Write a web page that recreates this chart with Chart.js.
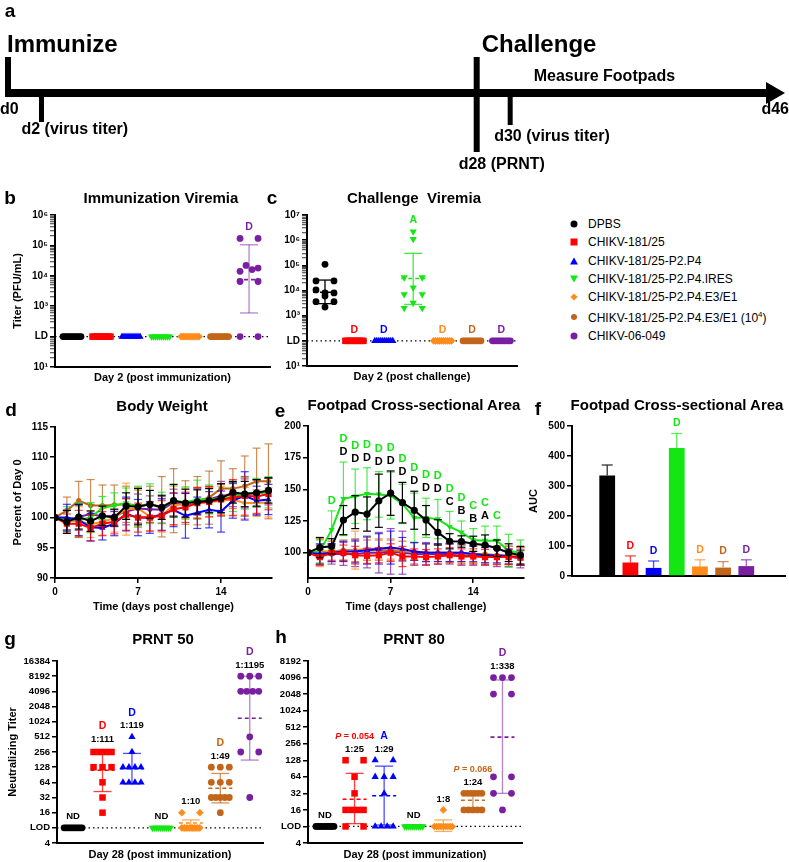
<!DOCTYPE html>
<html lang="en">
<head>
<meta charset="UTF-8">
<title>CHIKV-181/25 variants: viremia, footpad swelling and neutralization</title>
<script src="https://cdn.jsdelivr.net/npm/chart.js"></script>
<style>
  html, body { margin: 0; background: #fff; }
  #fig { position: relative; width: 789px; height: 862px; overflow: hidden; font-family: "Liberation Sans", Arial, sans-serif; color: #000; }
  #fig canvas { position: absolute; }
  .txt { position: absolute; white-space: pre; font-weight: bold; line-height: 1; transform: translate(-50%, -50%); }
  .letter { font-size: 19px; }
  .title { font-size: 15px; }
  .leg { position: absolute; left: 588px; font-size: 12px; line-height: 1; white-space: nowrap; transform: translateY(-50%); }
  .leg sup { font-size: 8px; vertical-align: 5px; }
  .mk { position: absolute; transform: translate(-50%, -50%); }
</style>
</head>
<body>
<div id="fig"></div>
<script>
var FONT = '"Liberation Sans", Arial, sans-serif';
Chart.defaults.font.family = FONT;
Chart.defaults.color = '#000';

// ---------------- data ----------------
var groupNames = ['DPBS', 'CHIKV-181/25', 'CHIKV-181/25-P2.P4', 'CHIKV-181/25-P2.P4.IRES',
  'CHIKV-181/25-P2.P4.E3/E1', 'CHIKV-181/25-P2.P4.E3/E1 (10^4)', 'CHIKV-06-049'];

// a. study timeline (days)
var timelineDays = [0, 2, 28, 30, 46];
var timelineNotes = ['d0', 'd2 (virus titer)', 'd28 (PRNT)', 'd30 (virus titer)', 'd46'];
var phaseDays = [0, 28, 28];
var phaseNotes = ['Immunize', 'Challenge', 'Measure Footpads'];

// b/c. viremia (PFU/mL), values at the detection limit plotted at LD
var LD = 100;
var viremiaTicks = [10, 100, 1000, 10000, 100000, 1000000, 10000000];
var viremiaTickLabels = ['10\u00b9', 'LD', '10\u00b3', '10\u2074', '10\u2075', '10\u2076', '10\u2077'];

var immViremia = [
  [100, 100, 100, 100, 100, 100, 100, 100, 100, 100],
  [100, 100, 100, 100, 100, 100, 100, 100, 100, 100],
  [100, 100, 100, 100, 100, 100, 100, 100, 100, 100],
  [100, 100, 100, 100, 100, 100, 100, 100, 100, 100],
  [100, 100, 100, 100, 100, 100, 100, 100, 100, 100],
  [100, 100, 100, 100, 100, 100, 100, 100, 100, 100],
  [170000, 170000, 14000, 22000, 16000, 18000, 6500, 6500, 100, 100]
];
var immMean = [null, null, null, null, null, null, 7500];
var immLo = [null, null, null, null, null, null, 600];
var immHi = [null, null, null, null, null, null, 105000];
var immSig = ['', '', '', '', '', '', 'D'];

var chalViremia = [
  [110000, 24000, 24000, 10500, 8000, 8000, 6000, 3600, 3600, 2200],
  [100, 100, 100, 100, 100, 100, 100, 100, 100, 100],
  [100, 100, 100, 100, 100, 100, 100, 100, 100, 100],
  [2200000, 1100000, 33000, 33000, 13000, 7000, 7000, 3200, 2000, 2000],
  [100, 100, 100, 100, 100, 100, 100, 100, 100, 100],
  [100, 100, 100, 100, 100, 100, 100, 100, 100, 100],
  [100, 100, 100, 100, 100, 100, 100, 100, 100, 100]
];
var chalMean = [8500, null, null, 30000, null, null, null];
var chalLo = [3000, null, null, 2800, null, null, null];
var chalHi = [26000, null, null, 300000, null, null, null];
var chalSig = ['', 'D', 'D', 'A', 'D', 'D', 'D'];

// d/e. daily measurements after challenge
var days = [0, 1, 2, 3, 4, 5, 6, 7, 8, 9, 10, 11, 12, 13, 14, 15, 16, 17, 18];
var dayTicks = [0, 7, 14];

var weightTicks = [90, 95, 100, 105, 110, 115];
var weightMean = [
  [100, 99.3, 100.1, 99.4, 100.3, 100.0, 101.9, 101.8, 102.2, 101.7, 102.8, 102.4, 102.6, 102.8, 103.2, 104.2, 103.9, 104.1, 104.5],
  [100, 99.0, 99.0, 98.3, 99.0, 99.3, 100.5, 100.0, 100.0, 100.3, 101.4, 101.7, 102.4, 102.6, 103.0, 103.3, 103.6, 103.5, 103.9],
  [100, 100.0, 99.6, 98.4, 98.3, 99.0, 100.6, 100.0, 100.0, 100.5, 101.3, 100.3, 100.8, 101.3, 101.0, 102.8, 103.6, 102.8, 103.0],
  [100, 99.8, 99.6, 100.0, 101.6, 102.0, 102.4, 101.8, 102.3, 101.6, 102.8, 102.5, 103.0, 103.0, 103.2, 103.4, 104.0, 104.1, 104.2],
  [100, 99.5, 99.4, 98.9, 99.3, 99.9, 101.4, 101.5, 100.2, 100.4, 102.0, 102.3, 102.5, 102.6, 102.8, 103.0, 102.4, 102.4, 102.5],
  [100, 101.2, 102.8, 102.0, 102.0, 102.1, 102.2, 102.0, 102.2, 101.8, 102.8, 102.5, 102.8, 103.3, 104.8, 104.8, 105.2, 106.0, 106.0],
  [100, 99.6, 100.1, 100.6, 100.2, 100.3, 101.0, 101.5, 101.4, 101.3, 102.5, 102.0, 102.6, 103.0, 103.6, 103.8, 104.0, 104.0, 104.3]
];
var weightSd = [
  [0, 1.9, 2.0, 1.7, 1.6, 1.4, 2.2, 3.0, 2.3, 2.0, 2.7, 2.3, 2.0, 2.0, 2.4, 1.8, 2.1, 2.2, 2.1],
  [0, 1.6, 2.2, 2.1, 2.0, 2.0, 2.6, 2.4, 2.2, 2.5, 2.6, 2.5, 2.6, 2.5, 2.6, 3.0, 3.2, 2.8, 2.6],
  [0, 2.2, 2.6, 2.3, 2.0, 2.0, 2.8, 3.0, 2.6, 2.6, 2.8, 3.7, 2.6, 3.0, 3.4, 2.9, 4.0, 2.4, 2.5],
  [0, 2.0, 2.9, 2.5, 1.9, 2.1, 2.5, 3.4, 3.3, 2.6, 2.6, 2.6, 3.2, 2.4, 2.4, 2.4, 2.6, 2.4, 2.6],
  [0, 1.8, 2.4, 2.2, 2.2, 2.3, 4.3, 3.0, 2.5, 2.8, 3.2, 2.6, 2.5, 2.4, 2.4, 2.6, 2.6, 2.2, 2.4],
  [0, 2.2, 3.2, 4.3, 3.4, 3.3, 3.0, 3.0, 3.0, 5.0, 5.3, 3.6, 4.0, 4.4, 4.6, 3.3, 5.0, 5.5, 6.2],
  [0, 1.6, 2.2, 1.6, 1.8, 1.8, 2.2, 2.4, 2.2, 2.2, 2.2, 2.0, 2.2, 2.2, 2.4, 2.0, 2.4, 2.2, 2.2]
];

var footTicks = [100, 125, 150, 175, 200];
var footMean = [
  [100, 104, 105, 125.7, 132, 130.5, 141, 147, 139.5, 133.5, 125.7, 116, 109, 108.8, 107, 106, 103.5, 100, 98],
  [100, 96.5, 100, 100, 98, 97.5, 98, 100, 97, 97, 96.5, 97, 98, 97, 97, 96.5, 96.5, 96.5, 96],
  [100, 99, 100, 101, 101, 102, 103, 104, 103, 101, 100, 100, 100, 100, 99, 98, 98, 97, 96],
  [100, 101, 118, 142.5, 144.5, 146.5, 146, 145, 138.5, 127.5, 127.5, 126.5, 120.5, 116, 110, 109.5, 109.5, 101.5, 100],
  [100, 100, 101, 101, 102, 103, 103, 103, 102, 101, 100, 100, 100, 99, 99, 98, 98, 98, 97],
  [100, 101, 101, 102, 102, 102, 102, 102, 101, 101, 100, 100, 100, 100, 99, 99, 98, 98, 97],
  [100, 98, 99, 99, 99, 100, 100, 101, 100, 99, 99, 99, 99, 98, 98, 98, 97, 97, 96]
];
var footSd = [
  [0, 8, 6, 11.5, 13, 13.5, 21, 17.5, 16, 15, 11.5, 10, 6, 4.5, 6, 8, 6.5, 7, 7],
  [0, 6, 6, 6, 7, 6, 6, 7, 8, 6, 6, 6, 6, 6, 6, 6, 6, 6, 6],
  [0, 8, 7, 8, 9, 11, 12, 13, 9, 7, 7, 7, 7, 7, 6, 6, 6, 6, 6],
  [0, 9, 15, 29, 21.5, 20.5, 18, 18.5, 15.5, 19.5, 15.5, 15.5, 12, 9, 9, 11.5, 11.5, 13, 10],
  [0, 11, 8, 8, 15, 9, 8, 8, 7, 7, 7, 7, 7, 7, 7, 7, 7, 7, 7],
  [0, 10, 8, 8, 9, 8, 8, 8, 8, 7, 7, 7, 7, 7, 7, 7, 7, 7, 7],
  [0, 8, 8, 9, 10, 12, 16, 18, 17, 9, 9, 8, 8, 8, 8, 8, 8, 8, 8]
];
var footSigIRES = ['', '', 'D', 'D', 'D', 'D', 'D', 'D', 'D', 'D', 'D', 'D', 'D', 'D', 'C', 'C', 'C', '', ''];
var footSigDPBS = ['', '', '', 'D', 'D', 'D', 'D', 'D', 'D', 'D', 'D', 'D', 'C', 'B', 'B', 'A', '', '', ''];

// f. area under the footpad curve
var aucTicks = [0, 100, 200, 300, 400, 500];
var aucMean = [335, 45, 27, 427, 32, 28, 33];
var aucSd = [35, 22, 23, 48, 22, 20, 21];
var aucSig = ['', 'D', 'D', 'D', 'D', 'D', 'D'];

// g/h. neutralizing titers at day 28, values at the detection limit plotted at LOD
var LOD = 8;
var prntTicks = [4, 8, 16, 32, 64, 128, 256, 512, 1024, 2048, 4096, 8192, 16384];
var prntTickLabels = ['4', 'LOD', '16', '32', '64', '128', '256', '512', '1024', '2048', '4096', '8192', '16384'];

var prnt50 = [
  [8, 8, 8, 8, 8, 8, 8, 8, 8, 8],
  [256, 256, 256, 256, 128, 128, 128, 64, 32, 16],
  [512, 256, 128, 128, 128, 128, 64, 64, 64, 64],
  [8, 8, 8, 8, 8, 8, 8, 8, 8, 8],
  [16, 16, 8, 8, 8, 8, 8, 8, 8, 8],
  [128, 128, 128, 64, 64, 64, 32, 32, 32, 32, 32, 16],
  [8192, 8192, 8192, 4096, 4096, 4096, 4096, 512, 256, 256, 32]
];
var prnt50Mean = [null, 111, 119, null, 10, 49, 1195];
var prnt50Lo = [null, 42, 60, null, 7, 25, 177];
var prnt50Hi = [null, 280, 240, null, 11.5, 96, 8192];
var prnt50Sig = ['', 'D', 'D', '', '', 'D', 'D'];
var prnt50Gmt = ['ND', '1:111', '1:119', 'ND', '1:10', '1:49', '1:1195'];

var prnt80 = [
  [8, 8, 8, 8, 8, 8, 8, 8, 8, 8],
  [128, 128, 64, 32, 16, 16, 16, 16, 8, 8],
  [128, 128, 64, 64, 64, 32, 8, 8, 8, 8],
  [8, 8, 8, 8, 8, 8, 8, 8, 8, 8],
  [16, 8, 8, 8, 8, 8, 8, 8, 8, 8],
  [32, 32, 32, 32, 32, 32, 16, 16, 16, 16, 16],
  [4096, 4096, 4096, 2048, 2048, 64, 64, 32, 32, 16]
];
var prnt80Mean = [null, 25, 29, null, 8, 24, 338];
var prnt80Lo = [null, 9, 8.5, null, 6.5, 17, 32];
var prnt80Hi = [null, 74, 100, null, 10.5, 31, 3700];
var prnt80Sig = ['', 'P = 0.054', 'A', '', '', 'P = 0.066', 'D'];
var prnt80Gmt = ['ND', '1:25', '1:29', 'ND', '1:8', '1:24', '1:338'];

// ---------------- styles ----------------
var COLORS = ['#000000', '#ff0000', '#0000ff', '#14e614', '#ff8c1a', '#c2651a', '#7a1fa2'];
var ERR_ALPHA = [1, 0.75, 0.7, 0.8, 0.7, 0.7, 0.55];
var STYLES = ['circle', 'rect', 'triangle', 'triangle', 'rectRot', 'circle', 'circle'];
var ROT = [0, 0, 0, 180, 0, 0, 0];
var DOT_R = [3.4, 4.6, 4.2, 4.2, 3.8, 3.4, 3.4];
var LINE_R = [3.6, 4.4, 3.6, 3.6, 3, 2.6, 2.6];
var SIG_SIZE = 10.5, GMT_SIZE = 9.5, P_SIZE = 9;

var fig = document.getElementById('fig');

function tint(hex, a) {
  var n = parseInt(hex.slice(1), 16);
  return 'rgba(' + (n >> 16) + ',' + ((n >> 8) & 255) + ',' + (n & 255) + ',' + a + ')';
}
function seg(ctx, x1, y1, x2, y2) {
  ctx.beginPath(); ctx.moveTo(x1, y1); ctx.lineTo(x2, y2); ctx.stroke();
}
function addText(text, x, y, cls) {
  var d = document.createElement('div');
  d.className = 'txt ' + cls;
  d.textContent = text;
  d.style.left = x + 'px'; d.style.top = y + 'px';
  fig.appendChild(d);
}
function drawLabel(ctx, text, x, y, color, size) {
  ctx.fillStyle = color;
  ctx.textBaseline = 'middle';
  if (text.indexOf('P = ') === 0) {
    size = P_SIZE;
    var upright = 'bold ' + size + 'px ' + FONT;
    var rest = text.slice(1);
    ctx.font = 'italic ' + upright; var wP = ctx.measureText('P').width;
    ctx.font = upright; var wR = ctx.measureText(rest).width;
    var x0 = x - (wP + wR) / 2;
    ctx.textAlign = 'left';
    ctx.font = 'italic ' + upright; ctx.fillText('P', x0, y);
    ctx.font = upright; ctx.fillText(rest, x0 + wP, y);
  } else {
    ctx.textAlign = 'center';
    ctx.font = 'bold ' + size + 'px ' + FONT;
    ctx.fillText(text, x, y);
  }
}

// plot frame: l,t,r,b = plot area; cl = canvas left; cb = canvas bottom
function frame(l, t, r, b, cl, cb, padTop) {
  return { l: l, t: t, r: r, b: b, cl: cl, cb: cb, padTop: padTop, padRight: 6 };
}
function canvasFor(f) {
  var c = document.createElement('canvas');
  var top = f.t - f.padTop, w = f.r + f.padRight - f.cl, h = f.cb - top;
  c.width = w; c.height = h;
  c.style.left = f.cl + 'px'; c.style.top = top + 'px';
  c.style.width = w + 'px'; c.style.height = h + 'px';
  fig.appendChild(c);
  return c;
}
function baseOptions(f, xScale, yScale) {
  return {
    responsive: false, animation: false, devicePixelRatio: 1,
    layout: { autoPadding: false, padding: { left: 0, top: f.padTop, right: f.padRight, bottom: 0 } },
    plugins: { legend: { display: false }, tooltip: { enabled: false } },
    scales: { x: xScale, y: yScale }
  };
}
function axisTitle(text, pad, bottomAxis) {
  if (!text) return { display: false };
  return {
    display: true, text: text, color: '#000', font: { size: 11, weight: 'bold' },
    padding: bottomAxis ? { top: 0, bottom: 0 } : { top: pad, bottom: 0 }
  };
}
function yAxis(f, o) {
  var labelOf = function (v) {
    var k = o.ticks.indexOf(v);
    if (k < 0) return '';
    return o.labels ? o.labels[k] : String(v);
  };
  return {
    type: o.type || 'linear', position: 'left', min: o.min, max: o.max,
    afterBuildTicks: function (s) {
      s.ticks = (o.minor ? o.minor : o.ticks).map(function (v) { return { value: v }; });
    },
    afterFit: function (s) { s.width = f.l - f.cl; },
    border: { display: true, color: '#000', width: 2 },
    grid: {
      display: true, drawOnChartArea: false, drawTicks: true, tickLength: 5, color: '#000',
      lineWidth: 1.5,
      tickWidth: function (c) { return c.tick && o.ticks.indexOf(c.tick.value) >= 0 ? 1.5 : 0.8; }
    },
    ticks: { color: '#000', font: { size: o.tickSize || 10, weight: 'bold' }, padding: 2, autoSkip: false, callback: labelOf },
    title: axisTitle(o.title, o.titlePad, false)
  };
}
function xAxis(f, o) {
  var s = {
    type: 'linear', position: 'bottom', min: o.min, max: o.max,
    afterFit: function (sc) { sc.height = f.cb - f.b; },
    border: { display: true, color: '#000', width: 2 },
    grid: { display: false },
    ticks: { display: false },
    title: axisTitle(o.title, 0, true)
  };
  if (o.ticks) {
    s.afterBuildTicks = function (sc) { sc.ticks = o.ticks.map(function (v) { return { value: v }; }); };
    s.grid = { display: true, drawOnChartArea: false, drawTicks: true, tickLength: 5, color: '#000', lineWidth: 1.5 };
    s.ticks = { display: true, color: '#000', font: { size: 10, weight: 'bold' }, padding: 3, autoSkip: false, maxRotation: 0 };
  }
  return s;
}
function logMinor(lo, hi, base) {
  var out = [];
  for (var d = lo; d < hi; d *= base) {
    for (var m = 1; m < base; m++) out.push(d * m);
  }
  out.push(hi);
  return out;
}

// points with (nearly) equal values share a row spread across the column
function swarm(vals, cx, spread, rowGap) {
  var idx = vals.map(function (v, i) { return i; });
  idx.sort(function (a, b) { return vals[b] - vals[a] || a - b; });
  var rows = [], cur = null;
  idx.forEach(function (i) {
    var lv = Math.log10(vals[i]);
    if (!cur || cur.top - lv > rowGap) { cur = { top: lv, members: [] }; rows.push(cur); }
    cur.members.push(i);
  });
  var pts = [];
  rows.forEach(function (row) {
    row.members.sort(function (a, b) { return a - b; });
    var n = row.members.length;
    row.members.forEach(function (i, k) {
      var off = n > 1 ? -spread / 2 + spread * k / (n - 1) : 0;
      pts.push({ x: cx + off, y: vals[i] });
    });
  });
  return pts;
}

function statsPlugin(cfg) {
  return {
    id: 'groupStats',
    beforeDatasetsDraw: function (chart) {
      var ctx = chart.ctx, a = chart.chartArea, y = chart.scales.y.getPixelForValue(cfg.limit);
      ctx.save();
      ctx.strokeStyle = '#000'; ctx.lineWidth = 1.3; ctx.setLineDash([1.5, 3]);
      seg(ctx, a.left, y, a.right, y);
      ctx.restore();
    },
    afterDatasetsDraw: function (chart) {
      var ctx = chart.ctx, xs = chart.scales.x, ys = chart.scales.y;
      ctx.save();
      cfg.values.forEach(function (vals, g) {
        var cx = xs.getPixelForValue(g + 1);
        var top = ys.getPixelForValue(Math.max.apply(null, vals));
        if (cfg.mean[g] != null) {
          var yl = ys.getPixelForValue(cfg.lo[g]), yh = ys.getPixelForValue(cfg.hi[g]);
          var ym = ys.getPixelForValue(cfg.mean[g]);
          ctx.setLineDash([]); ctx.strokeStyle = tint(COLORS[g], ERR_ALPHA[g]); ctx.lineWidth = 1.3;
          seg(ctx, cx, yl, cx, yh);
          seg(ctx, cx - 9, yh, cx + 9, yh);
          seg(ctx, cx - 9, yl, cx + 9, yl);
          ctx.setLineDash([4, 3]); ctx.strokeStyle = COLORS[g]; ctx.lineWidth = 1.6;
          seg(ctx, cx - 12, ym, cx + 12, ym);
          top = Math.min(top, yh);
        }
        var y = top - 11;
        if (cfg.gmt && cfg.gmt[g]) { drawLabel(ctx, cfg.gmt[g], cx, y, '#000', GMT_SIZE); y -= 13; }
        if (cfg.sig[g]) drawLabel(ctx, cfg.sig[g], cx, y, COLORS[g], SIG_SIZE);
      });
      ctx.restore();
    }
  };
}

function scatterPanel(f, cfg) {
  var pxPerX = (f.r - f.l) / (cfg.xmax - cfg.xmin);
  var pxPerDec = (f.b - f.t) / (Math.log10(cfg.ymax) - Math.log10(cfg.ymin));
  var datasets = cfg.values.map(function (vals, g) {
    return {
      data: swarm(vals, g + 1, 18 / pxPerX, cfg.rowPx / pxPerDec),
      showLine: false,
      pointStyle: STYLES[g], pointRotation: ROT[g], pointRadius: DOT_R[g],
      pointBackgroundColor: COLORS[g], pointBorderColor: COLORS[g], pointBorderWidth: 0
    };
  });
  var opts = baseOptions(f,
    xAxis(f, { min: cfg.xmin, max: cfg.xmax, title: cfg.xTitle }),
    yAxis(f, { type: 'logarithmic', min: cfg.ymin, max: cfg.ymax, ticks: cfg.ticks, labels: cfg.labels,
      minor: cfg.minor, title: cfg.yTitle, titlePad: cfg.yTitlePad, tickSize: cfg.tickSize }));
  new Chart(canvasFor(f), { type: 'scatter', data: { datasets: datasets }, options: opts, plugins: [statsPlugin(cfg)] });
}

function lineErrPlugin(means, sds) {
  return {
    id: 'lineErr',
    beforeDatasetDraw: function (chart, args) {
      var g = args.index, ctx = chart.ctx, ys = chart.scales.y, a = chart.chartArea;
      ctx.save();
      ctx.beginPath(); ctx.rect(a.left, a.top - 2, a.right - a.left + 6, a.bottom - a.top + 2); ctx.clip();
      ctx.strokeStyle = tint(COLORS[g], g === 0 ? 1 : 0.75); ctx.lineWidth = 1.2;
      args.meta.data.forEach(function (pt, j) {
        var sd = sds[g][j];
        if (!sd) return;
        var yh = ys.getPixelForValue(means[g][j] + sd), yl = ys.getPixelForValue(means[g][j] - sd);
        seg(ctx, pt.x, yl, pt.x, yh);
        seg(ctx, pt.x - 4, yh, pt.x + 4, yh);
        seg(ctx, pt.x - 4, yl, pt.x + 4, yl);
      });
      ctx.restore();
    }
  };
}

function linePanel(f, means, sds, yo, extra) {
  var datasets = means.map(function (m, g) {
    return {
      data: days.map(function (d, j) { return { x: d, y: m[j] }; }),
      borderColor: COLORS[g], borderWidth: 2, tension: 0,
      pointStyle: STYLES[g], pointRotation: ROT[g], pointRadius: LINE_R[g],
      pointBackgroundColor: COLORS[g], pointBorderColor: COLORS[g], pointBorderWidth: 0
    };
  });
  var opts = baseOptions(f,
    xAxis(f, { min: 0, max: 18.3, ticks: dayTicks, title: 'Time (days post challenge)' }),
    yAxis(f, yo));
  var plugins = [lineErrPlugin(means, sds)];
  if (extra) plugins.push(extra);
  new Chart(canvasFor(f), { type: 'line', data: { datasets: datasets }, options: opts, plugins: plugins });
}

// ---------------- a: timeline ----------------
(function () {
  var c = document.createElement('canvas');
  c.width = 789; c.height = 195;
  c.style.left = '0px'; c.style.top = '0px'; c.style.width = '789px'; c.style.height = '195px';
  fig.appendChild(c);
  var timelinePlugin = {
    id: 'timeline',
    afterDatasetsDraw: function (chart) {
      var ctx = chart.ctx, xs = chart.scales.x, y0 = chart.scales.y.getPixelForValue(0);
      var up = [36, 0, 36, 0], down = [4, 29, 59, 32], wid = [6, 5, 6, 5];
      ctx.save();
      ctx.fillStyle = '#000';
      for (var i = 0; i < 4; i++) {
        var x = xs.getPixelForValue(timelineDays[i]);
        ctx.fillRect(x - wid[i] / 2, y0 - up[i], wid[i], up[i] + down[i]);
      }
      var tip = xs.getPixelForValue(timelineDays[4]) + 7;
      ctx.beginPath(); ctx.moveTo(tip, y0); ctx.lineTo(tip - 19, y0 - 11); ctx.lineTo(tip - 19, y0 + 11);
      ctx.closePath(); ctx.fill();
      ctx.textBaseline = 'middle';
      ctx.font = 'bold 16px ' + FONT;
      var dx = [-8, -20, -18, -16], dy = [17, 37, 72, 44];
      timelineNotes.forEach(function (t, i) {
        if (i === 4) { ctx.textAlign = 'right'; ctx.fillText(t, 789, y0 + 17); return; }
        ctx.textAlign = 'left';
        ctx.fillText(t, xs.getPixelForValue(timelineDays[i]) + dx[i], y0 + dy[i]);
      });
      ctx.textAlign = 'left';
      var pdx = [-1, 5, 57], pdy = [-48, -48, -16], psize = [24, 24, 16];
      phaseNotes.forEach(function (t, i) {
        ctx.font = 'bold ' + psize[i] + 'px ' + FONT;
        ctx.fillText(t, xs.getPixelForValue(phaseDays[i]) + pdx[i], y0 + pdy[i]);
      });
      ctx.restore();
    }
  };
  new Chart(c, {
    type: 'line',
    data: { datasets: [{ data: [{ x: timelineDays[0], y: 0 }, { x: timelineDays[4], y: 0 }],
      borderColor: '#000', borderWidth: 8, pointRadius: 0, borderCapStyle: 'butt' }] },
    options: {
      responsive: false, animation: false, devicePixelRatio: 1,
      layout: { autoPadding: false, padding: 0 },
      plugins: { legend: { display: false }, tooltip: { enabled: false } },
      scales: { x: { type: 'linear', display: false, min: -0.478, max: 46.657 },
                y: { type: 'linear', display: false, min: -102, max: 93 } }
    },
    plugins: [timelinePlugin]
  });
})();

// ---------------- b, c: viremia ----------------
scatterPanel(frame(55, 215, 270, 367, 0, 385, 14), {
  values: immViremia, mean: immMean, lo: immLo, hi: immHi, sig: immSig, limit: LD,
  xmin: 0.424, xmax: 7.71, ymin: 10, ymax: 1e6, rowPx: 7,
  ticks: viremiaTicks, labels: viremiaTickLabels, minor: logMinor(10, 1e6, 10),
  xTitle: 'Day 2 (post immunization)', yTitle: 'Titer (PFU/mL)', yTitlePad: 11
});
scatterPanel(frame(307, 215, 517, 366, 272, 384, 14), {
  values: chalViremia, mean: chalMean, lo: chalLo, hi: chalHi, sig: chalSig, limit: LD,
  xmin: 0.388, xmax: 7.53, ymin: 10, ymax: 1e7, rowPx: 5,
  ticks: viremiaTicks, labels: viremiaTickLabels, minor: logMinor(10, 1e7, 10),
  xTitle: 'Day 2 (post challenge)'
});

// ---------------- d, e: time courses ----------------
linePanel(frame(55, 427, 272, 578, 0, 614, 10), weightMean, weightSd,
  { min: 90, max: 115, ticks: weightTicks, title: 'Percent of Day 0', titlePad: 11 });

var footLetterPlugin = {
  id: 'footLetters',
  afterDatasetsDraw: function (chart) {
    var ctx = chart.ctx, xs = chart.scales.x, ys = chart.scales.y;
    ctx.save();
    days.forEach(function (d, j) {
      var gTop = ys.getPixelForValue(footMean[3][j] + footSd[3][j]);
      var bTop = ys.getPixelForValue(footMean[0][j] + footSd[0][j]);
      var x = xs.getPixelForValue(d), y = Math.min(gTop, bTop) - 10;
      if (footSigDPBS[j]) { drawLabel(ctx, footSigDPBS[j], x, y, '#000', 11); y -= 13; }
      if (footSigIRES[j]) drawLabel(ctx, footSigIRES[j], x, y, COLORS[3], 11);
    });
    ctx.restore();
  }
};
linePanel(frame(308, 426, 524, 578, 275, 614, 10), footMean, footSd,
  { min: 80, max: 200, ticks: footTicks }, footLetterPlugin);

// ---------------- f: AUC ----------------
(function () {
  var f = frame(572, 426, 785, 578, 525, 584, 14);
  f.padRight = 4;
  var aucPlugin = {
    id: 'aucErr',
    afterDatasetsDraw: function (chart) {
      var ctx = chart.ctx, ys = chart.scales.y;
      ctx.save();
      chart.getDatasetMeta(0).data.forEach(function (bar, i) {
        var yh = ys.getPixelForValue(aucMean[i] + aucSd[i]);
        ctx.strokeStyle = i === 0 ? '#333' : tint(COLORS[i], 0.7); ctx.lineWidth = 1.3;
        seg(ctx, bar.x, bar.y, bar.x, yh);
        seg(ctx, bar.x - 5.5, yh, bar.x + 5.5, yh);
        if (aucSig[i]) drawLabel(ctx, aucSig[i], bar.x, yh - 10, COLORS[i], SIG_SIZE);
      });
      ctx.restore();
    }
  };
  var opts = baseOptions(f,
    xAxis(f, { min: 0.4, max: 7.75 }),
    yAxis(f, { min: 0, max: 500, ticks: aucTicks, title: 'AUC', titlePad: 2.4 }));
  new Chart(canvasFor(f), {
    type: 'bar',
    data: { datasets: [{ data: aucMean.map(function (v, i) { return { x: i + 1, y: v }; }),
      backgroundColor: COLORS, barPercentage: 0.68, categoryPercentage: 1 }] },
    options: opts,
    plugins: [aucPlugin]
  });
})();

// ---------------- g, h: PRNT ----------------
scatterPanel(frame(57, 661, 263, 843, 0, 862, 26), {
  values: prnt50, mean: prnt50Mean, lo: prnt50Lo, hi: prnt50Hi, sig: prnt50Sig, gmt: prnt50Gmt, limit: LOD,
  xmin: 0.454, xmax: 7.45, ymin: 4, ymax: 16384, rowPx: 6, tickSize: 9.5,
  ticks: prntTicks, labels: prntTickLabels,
  xTitle: 'Day 28 (post immunization)', yTitle: 'Neutralizing Titer', yTitlePad: 6
});
scatterPanel(frame(308, 661, 522, 843, 268, 862, 26), {
  values: prnt80, mean: prnt80Mean, lo: prnt80Lo, hi: prnt80Hi, sig: prnt80Sig, gmt: prnt80Gmt, limit: LOD,
  xmin: 0.426, xmax: 7.66, ymin: 4, ymax: 8192, rowPx: 6, tickSize: 9.5,
  ticks: prntTicks.slice(0, 12), labels: prntTickLabels.slice(0, 12),
  xTitle: 'Day 28 (post immunization)'
});

// ---------------- titles, panel letters, legend ----------------
[['a', 10, 10], ['b', 10, 197], ['c', 272, 197], ['d', 11, 409], ['e', 280, 410],
 ['f', 538, 408], ['g', 10, 638], ['h', 281, 636]].forEach(function (p) { addText(p[0], p[1], p[2], 'letter'); });
[['Immunization Viremia', 161, 197], ['Challenge  Viremia', 414, 197], ['Body Weight', 162, 405],
 ['Footpad Cross-sectional Area', 414, 404], ['Footpad Cross-sectional Area', 677, 404],
 ['PRNT 50', 163, 638], ['PRNT 80', 414, 638]].forEach(function (p) { addText(p[0], p[1], p[2], 'title'); });

(function () {
  var rowY = [224, 242, 261, 279, 297, 317, 336];
  groupNames.forEach(function (name, g) {
    var t = document.createElement('div');
    t.className = 'leg';
    t.innerHTML = name.replace('^4', '<sup>4</sup>');
    t.style.top = rowY[g] + 'px';
    fig.appendChild(t);
    var m = document.createElement('div');
    m.className = 'mk';
    m.style.left = '574px'; m.style.top = rowY[g] + 'px';
    var c = COLORS[g], s = STYLES[g];
    if (s === 'circle') {
      var d = g === 5 ? 6 : 7;
      m.style.width = d + 'px'; m.style.height = d + 'px'; m.style.borderRadius = '50%'; m.style.background = c;
    } else if (s === 'rect') {
      m.style.width = '7px'; m.style.height = '7px'; m.style.background = c;
    } else if (s === 'rectRot') {
      m.style.width = '5px'; m.style.height = '5px'; m.style.background = c;
      m.style.transform = 'translate(-50%, -50%) rotate(45deg)';
    } else {
      m.style.width = '0px'; m.style.height = '0px';
      m.style.borderLeft = '4px solid transparent'; m.style.borderRight = '4px solid transparent';
      if (ROT[g]) m.style.borderTop = '7px solid ' + c; else m.style.borderBottom = '7px solid ' + c;
    }
    fig.appendChild(m);
  });
})();
</script>
</body>
</html>
